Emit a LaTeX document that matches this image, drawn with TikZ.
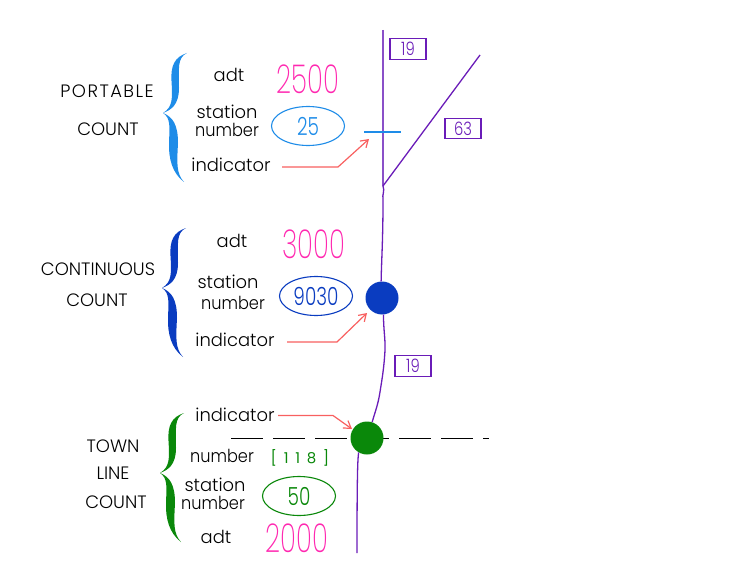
\documentclass[tikz,border=0pt]{standalone}
\usepackage{fontspec}
\setmainfont{Poppins Light}
\newfontfamily\thinfont{Poppins ExtraLight}
\newfontfamily\regfont[LetterSpace=45]{Poppins}
\usetikzlibrary{arrows.meta,shapes.geometric}
\definecolor{roadc}{HTML}{6A1CB8}
\definecolor{roadl}{HTML}{8A50C8}
\definecolor{bluec}{HTML}{1E8CE8}
\definecolor{navyc}{HTML}{0A3CC0}
\definecolor{greenc}{HTML}{0A880A}
\definecolor{pinkc}{HTML}{FF28B0}
\definecolor{redc}{HTML}{F86060}
\newcommand{\bracepath}{(0,0) .. controls (8,-3) and (16,-8) .. (16,-25) .. controls (16,-45) and (14,-55) .. (24,-60) .. controls (12,-56) and (7.5,-48) .. (8.5,-32) .. controls (9.5,-15) and (10,-6) .. (0,0) .. controls (10,4) and (15,12) .. (15,30) .. controls (14,50) and (13,60) .. (21,69) .. controls (9,60) and (5.5,45) .. (6,30) .. controls (6.5,15) and (8,5) .. (0,0) -- cycle}
\tikzset{
  lab/.style={inner sep=0pt,font=\fontsize{18}{20}\selectfont,text=black},
  capt/.style={lab},
  num/.style={inner sep=0pt,text=pinkc,font=\thinfont\fontsize{40}{42}\selectfont},
  oval/.style={draw,ellipse,minimum width=73bp,minimum height=39bp,inner sep=0pt,line width=1.1bp,font=\fontsize{25}{27}\selectfont},
  rbox/.style={draw=roadc,text=roadc,minimum width=36bp,minimum height=20.5bp,inner sep=0pt,line width=1.4bp,font=\fontsize{18.5}{20}\selectfont},
  road/.style={draw=roadc,line width=1.3bp},
  pointer/.style={draw=redc,line width=1.2bp,-{Straight Barb[length=7bp,width=9bp]}},
  spot/.style={circle,minimum size=33bp,inner sep=0pt},
}
\newcommand{\narrow}[1]{\scalebox{0.66}[1]{#1}}
\newcommand{\narrowb}[1]{\scalebox{0.74}[1]{#1}}
\newcommand{\narrowc}[1]{\scalebox{0.8}[1]{#1}}
\newcommand{\numword}{\scalebox{0.9}[1]{number}}
\begin{document}
\begin{tikzpicture}[x=1bp,y=-1bp]
\useasboundingbox (0,0) rectangle (739,572);
% coordinates
\coordinate (rt) at (383,30);
\coordinate (rj) at (383,186);
\coordinate (rb) at (480,55);
\coordinate (re) at (357,553);
\coordinate (tl) at (364,132);
\coordinate (tr) at (401,132);
\coordinate (dl) at (231,438);
\coordinate (dr) at (489,438);
% dashed town line
\draw[black,line width=0.9bp,dash pattern=on 32bp off 10bp] (dl) -- (dr);
% spots
\node[spot,fill=navyc] (cc) at (382,298) {};
\node[spot,fill=greenc] (tc) at (367,438) {};
% roads
\draw[draw=roadl,line width=1.7bp] (rt) -- (rj);
\draw[road] (rj) -- (rb);
\draw[road] (rj) .. controls (385,191) and (382,194) .. (383,200) .. controls (383,240) and (381.5,260) .. (cc.93);
\draw[road] (cc.-85) .. controls (383.5,330) and (385.5,340) .. (385,350) .. controls (384,370) and (381,385) .. (380,392) .. controls (378,405) and (375,412) .. (tc.72);
\draw[road] (tc.240) .. controls (358,458) and (357,462) .. (re);
% tick
\draw[bluec,line width=1.2bp] (tl) -- (tr);
% braces
\fill[bluec,shift={(163,113)}] \bracepath;
\fill[navyc,shift={(162,288)}] \bracepath;
\fill[greenc,shift={(160,473)}] \bracepath;
% portable
\node[capt] (p1) at (107,91) {\addfontfeatures{LetterSpace=8}PORTABLE};
\node[capt] (p2) at (108,129) {COUNT};
\node[lab] (pa) at (229,75) {adt};
\node[lab] (ps) at (227,112) {station};
\node[lab] (pn) at (227,130) {\numword};
\node[lab] (pi) at (231,165) {indicator};
\node[num] (pv) at (308,79) {\narrow{2500}};
\node[oval,draw=bluec,text=bluec] (po) at (308,126) {\narrowb{25}};
% continuous
\node[capt] (c1) at (98,269) {CONTINUOUS};
\node[capt] (c2) at (97,300) {COUNT};
\node[lab] (ca) at (232,241) {adt};
\node[lab] (cs) at (228,282) {station};
\node[lab] (cn) at (233,303) {\numword};
\node[lab] (ci) at (235,340) {indicator};
\node[num] (cv) at (314,244) {\narrow{3000}};
\node[oval,draw=navyc,text=navyc] (co) at (316,296) {\narrowb{9030}};
% town
\node[capt] (t1) at (113,446) {TOWN};
\node[capt] (t2) at (113,473) {LINE};
\node[capt] (t3) at (116,502) {COUNT};
\node[lab] (ti) at (235,415) {indicator};
\node[lab] (tn) at (222,456) {\numword};
\node[inner sep=0pt,text=greenc,font=\regfont\fontsize{15}{16}\selectfont] (tb) at (300,458) {[118]};
\node[lab] (ts) at (215,485) {station};
\node[lab] (tm) at (213,503) {\numword};
\node[oval,draw=greenc,text=greenc] (to) at (299,496) {\narrowb{50}};
\node[lab] (ta) at (216,537) {adt};
\node[num] (tv) at (297,538) {\narrow{2000}};
% route boxes
\node[rbox] (b1) at (408,49) {\narrowc{19}};
\node[rbox] (b2) at (463,128.5) {\narrowc{63}};
\node[rbox] (b3) at (413,366) {\narrowc{19}};
% pointers
\coordinate (a1) at (282,167); \coordinate (a2) at (338,167); \coordinate (a3) at (369,139);
\coordinate (a4) at (287,342); \coordinate (a5) at (337,342); \coordinate (a6) at (367,313);
\coordinate (a7) at (278,415.5); \coordinate (a8) at (333,415.5); \coordinate (a9) at (352,429);
\draw[pointer] (a1) -- (a2) -- (a3);
\draw[pointer] (a4) -- (a5) -- (a6);
\draw[pointer] (a7) -- (a8) -- (a9);
\end{tikzpicture}
\end{document}
